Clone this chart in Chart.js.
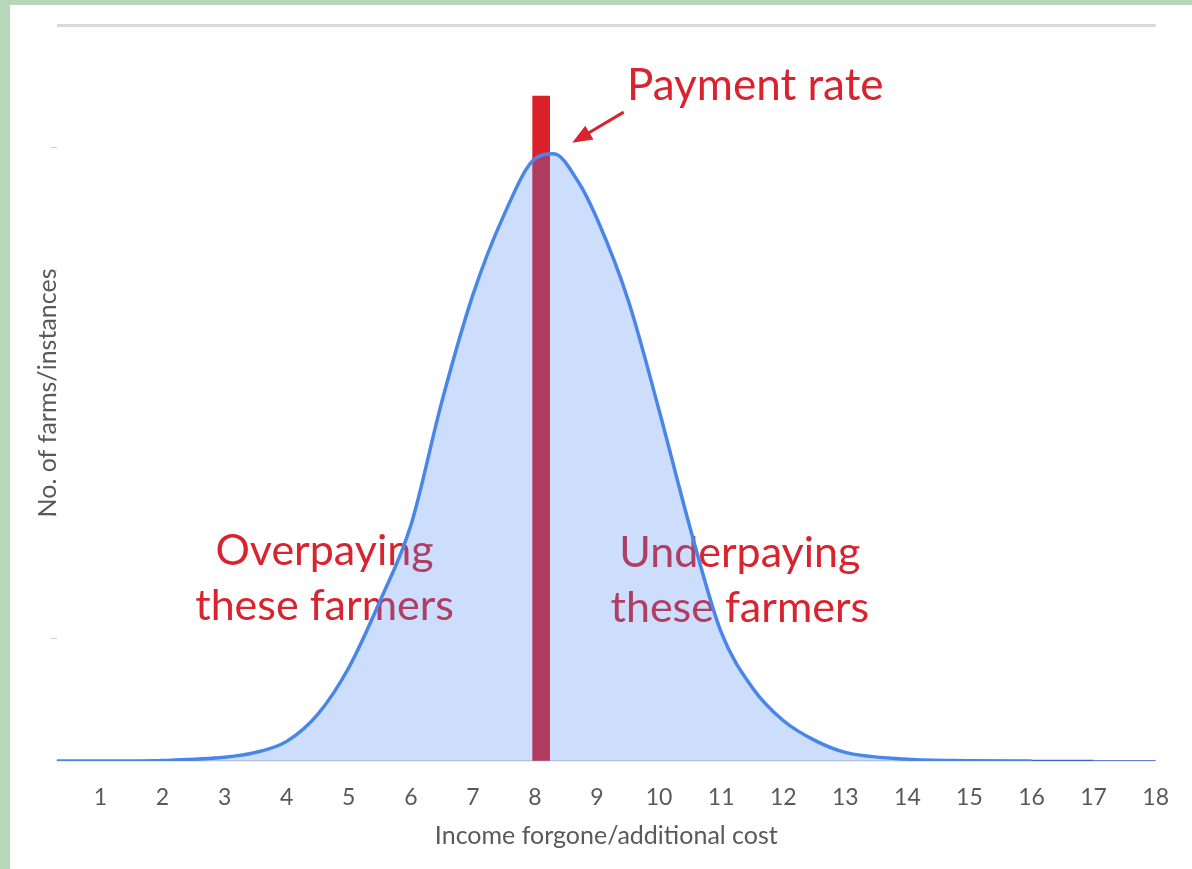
<!DOCTYPE html>
<html>
<head>
<meta charset="utf-8">
<title>Payment rate</title>
<script src="https://cdn.jsdelivr.net/npm/chart.js@4.4.1/dist/chart.umd.min.js"></script>
<style>
  html, body { margin: 0; padding: 0; background: #b7d7b9; }
  .wrap { position: absolute; left: 10px; top: 5px; width: 1182px; height: 864px; background: #fff; }
</style>
</head>
<body>
<div class="wrap"><canvas id="chart" width="1182" height="864"></canvas></div>
<script>
//DATA
const incomeValues = [0.3, 1, 2, 3, 3.5, 4, 4.5, 5, 5.5, 6, 6.5, 7, 7.5, 8, 8.3, 8.7, 9, 9.5, 10, 10.5, 11, 11.5, 12, 12.5, 13, 14, 15, 16, 17, 18];
const farmCounts = [0, 0, 0.005, 0.03, 0.07, 0.16, 0.38, 0.76, 1.3, 1.92, 2.93, 3.8, 4.45, 4.91, 4.95, 4.72, 4.42, 3.76, 2.86, 1.9, 1.05, 0.6, 0.33, 0.17, 0.07, 0.015, 0.003, 0, 0, 0];
const xTickLabels = [1, 2, 3, 4, 5, 6, 7, 8, 9, 10, 11, 12, 13, 14, 15, 16, 17, 18];
const yTicks = [0, 1, 2, 3, 4, 5, 6];
const paymentRate = [8.1];
const paymentBarHeight = [5.42];

// annotation texts, anchored in data units (x, baseline y)
const noteTexts = ["Payment rate", "Overpaying", "these farmers", "Underpaying", "these farmers"];
const noteX = [11.55, 4.61, 4.61, 11.3, 11.3];
const noteY = [5.39, 1.6, 1.15, 1.58, 1.13];
const arrowFrom = [9.43, 5.29];
const arrowTo = [8.6, 5.04];

//COLOURS
const RED = "#d9232e";
const BLUE = "#4a86e8";
const GREY_TEXT = "#595959";

const chartEl = document.getElementById("chart").getContext("2d");

// text + arrow go between the red bar and the blue area
const notesPlugin = {
  id: "notes",
  afterDatasetDraw(chart, args) {
    if (args.index !== 1) return;
    const { ctx, scales } = chart;
    const x = scales.x;
    const y = scales.y;
    ctx.save();
    ctx.fillStyle = RED;
    ctx.textAlign = "center";
    ctx.textBaseline = "alphabetic";
    noteTexts.forEach((txt, i) => {
      ctx.font = i === 0 ? "44px Lato" : "43px Lato";
      ctx.fillText(txt, x.getPixelForValue(noteX[i]), y.getPixelForValue(noteY[i]));
    });

    // arrow
    const x1 = x.getPixelForValue(arrowFrom[0]);
    const y1 = y.getPixelForValue(arrowFrom[1]);
    const x2 = x.getPixelForValue(arrowTo[0]);
    const y2 = y.getPixelForValue(arrowTo[1]);
    const ang = Math.atan2(y2 - y1, x2 - x1);
    const headLen = 20;
    const headW = 8;
    ctx.strokeStyle = RED;
    ctx.lineWidth = 3;
    ctx.beginPath();
    ctx.moveTo(x1, y1);
    ctx.lineTo(x2 - Math.cos(ang) * headLen * 0.8, y2 - Math.sin(ang) * headLen * 0.8);
    ctx.stroke();
    ctx.beginPath();
    ctx.moveTo(x2, y2);
    ctx.lineTo(x2 - Math.cos(ang) * headLen + Math.sin(ang) * headW, y2 - Math.sin(ang) * headLen - Math.cos(ang) * headW);
    ctx.lineTo(x2 - Math.cos(ang) * headLen - Math.sin(ang) * headW, y2 - Math.sin(ang) * headLen + Math.cos(ang) * headW);
    ctx.closePath();
    ctx.fill();
    ctx.restore();
  },
};

const chart = new Chart(chartEl, {
  type: "line",
  data: {
    datasets: [
      {
        type: "line",
        data: incomeValues.map((v, i) => ({ x: v, y: farmCounts[i] })),
        borderColor: BLUE,
        borderWidth: 3.5,
        backgroundColor: "rgba(66,133,244,0.27)",
        fill: "origin",
        pointRadius: 0,
        cubicInterpolationMode: "monotone",
        order: 0,
        segment: {
          borderColor: (c) => (c.p0.parsed.x >= 16 ? "#3f5fd0" : undefined),
          borderWidth: (c) => (c.p0.parsed.x >= 17 ? 1.5 : c.p0.parsed.x >= 16 ? 2.5 : undefined),
        },
      },
      {
        type: "bar",
        data: paymentRate.map((v, i) => ({ x: v, y: paymentBarHeight[i] })),
        backgroundColor: "#da2029",
        barThickness: 17,
        order: 1,
      },
    ],
  },
  options: {
    responsive: false,
    animation: false,
    layout: { padding: { top: 20, right: 34, left: 0, bottom: 0 } },
    plugins: {
      legend: { display: false },
      tooltip: { enabled: false },
    },
    scales: {
      x: {
        type: "linear",
        min: 0.3,
        max: 18,
        offset: false,
        afterBuildTicks: (s) => {
          s.ticks = xTickLabels.map((v) => ({ value: v }));
        },
        afterFit: (s) => {
          s.height = 108;
        },
        grid: { display: false, drawTicks: false },
        border: { display: true, color: "#d9d9d9", width: 1.5 },
        ticks: {
          padding: 23,
          color: GREY_TEXT,
          font: { family: "Lato", size: 23 },
          autoSkip: false,
          maxRotation: 0,
        },
        title: {
          display: true,
          text: "Income forgone/additional cost",
          color: GREY_TEXT,
          font: { family: "Lato", size: 25 },
          padding: { top: 0, bottom: 18 },
        },
      },
      y: {
        min: 0,
        max: 6,
        afterBuildTicks: (s) => {
          s.ticks = yTicks.map((v) => ({ value: v }));
        },
        afterFit: (s) => {
          s.width = 47;
        },
        ticks: { display: false },
        border: { display: false },
        grid: {
          color: (c) => (c.tick && c.tick.value === 6 ? "#d9d9d9" : "rgba(0,0,0,0)"),
          lineWidth: (c) => (c.tick && c.tick.value === 6 ? 3 : 1),
          tickColor: (c) => (c.tick && c.tick.value > 0 && c.tick.value < 6 ? "#d0d0d0" : "rgba(0,0,0,0)"),
          tickLength: 6,
        },
        title: {
          display: true,
          text: "No. of farms/instances",
          color: GREY_TEXT,
          font: { family: "Lato", size: 25 },
          padding: { top: 23, bottom: 0 },
        },
      },
    },
  },
  plugins: [notesPlugin],
});
</script>
</body>
</html>
